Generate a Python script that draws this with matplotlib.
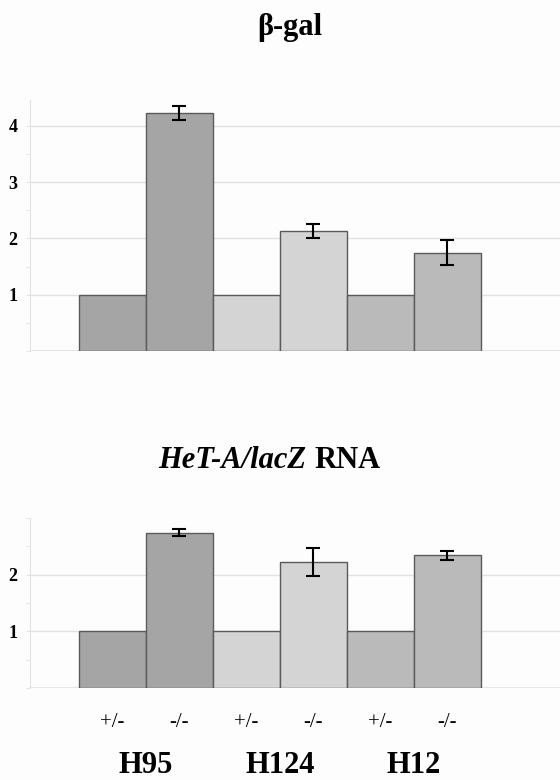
import matplotlib
matplotlib.use("Agg")
import matplotlib.pyplot as plt
from matplotlib.ticker import MultipleLocator

plt.rcParams['font.family'] = ['Liberation Serif', 'DejaVu Serif']

genotypes = ['+/-', '-/-', '+/-', '-/-', '+/-', '-/-']
lines = ['H95', 'H124', 'H12']
bgal = [1, 4.23, 1, 2.13, 1, 1.75]
bgal_err = [0, 0.13, 0, 0.13, 0, 0.22]
rna = [1, 2.74, 1, 2.22, 1, 2.34]
rna_err = [0, 0.065, 0, 0.25, 0, 0.08]

colors = ['#a5a5a5', '#a5a5a5', '#d4d4d4', '#d4d4d4', '#bababa', '#bababa']
grid_c = '#e2e2e2'

fig = plt.figure(figsize=(5.6, 7.8), dpi=100)
fig.patch.set_facecolor('#fdfdfd')


def panel(rect, vals, errs, ymax, ticks):
    ax = fig.add_axes(rect)
    ax.set_facecolor('#fdfdfd')
    x = list(range(len(vals)))
    ax.bar(x, vals, width=1.0, color=colors, edgecolor='#5a5a5a', linewidth=1.0, zorder=3)
    ex = [i for i in x if errs[i] > 0]
    ax.errorbar(ex, [vals[i] for i in ex], yerr=[errs[i] for i in ex], fmt='none',
                ecolor='black', elinewidth=1.5, capsize=5, capthick=1.5, zorder=4)
    ax.set_xlim(-1.23, 6.68)
    ax.set_ylim(0, ymax)
    ax.set_yticks(ticks)
    ax.set_yticklabels([str(t) for t in ticks], fontsize=13, fontweight='bold')
    ax.yaxis.set_minor_locator(MultipleLocator(0.5))
    ax.tick_params(axis='y', which='both', length=3, color=grid_c, pad=6)
    ax.grid(axis='y', which='major', color=grid_c, linewidth=1.0, zorder=0)
    ax.axhline(0, color=grid_c, linewidth=1.2, zorder=1)
    for s in ['top', 'right', 'bottom']:
        ax.spines[s].set_visible(False)
    ax.spines['left'].set_color(grid_c)
    return ax


ax1 = panel([0.0536, 0.55, 0.9464, 0.3218], bgal, bgal_err, 4.46, [1, 2, 3, 4])
ax1.set_xticks([])

ax2 = panel([0.0536, 0.1179, 0.9464, 0.218], rna, rna_err, 3.0, [1, 2])
ax2.set_xticks(range(len(genotypes)))
ax2.set_xticklabels(genotypes, fontsize=15)
ax2.tick_params(axis='x', length=0, pad=18)
for i, name in enumerate(lines):
    ax2.text(2 * i + 0.5, -1.36, name, fontsize=22, fontweight='bold',
             ha='center', va='center', transform=ax2.transData)

fig.text(290 / 560, 1 - 28 / 780, 'β-gal', fontsize=22, fontweight='bold',
         ha='center', va='center')
fig.text(306 / 560, 1 - 461 / 780, 'HeT-A/lacZ', fontsize=22, fontweight='bold',
         fontstyle='italic', ha='right', va='center')
fig.text(314 / 560, 1 - 461 / 780, 'RNA', fontsize=22, fontweight='bold',
         ha='left', va='center')

fig.savefig('out.png', dpi=100, facecolor=fig.get_facecolor())
